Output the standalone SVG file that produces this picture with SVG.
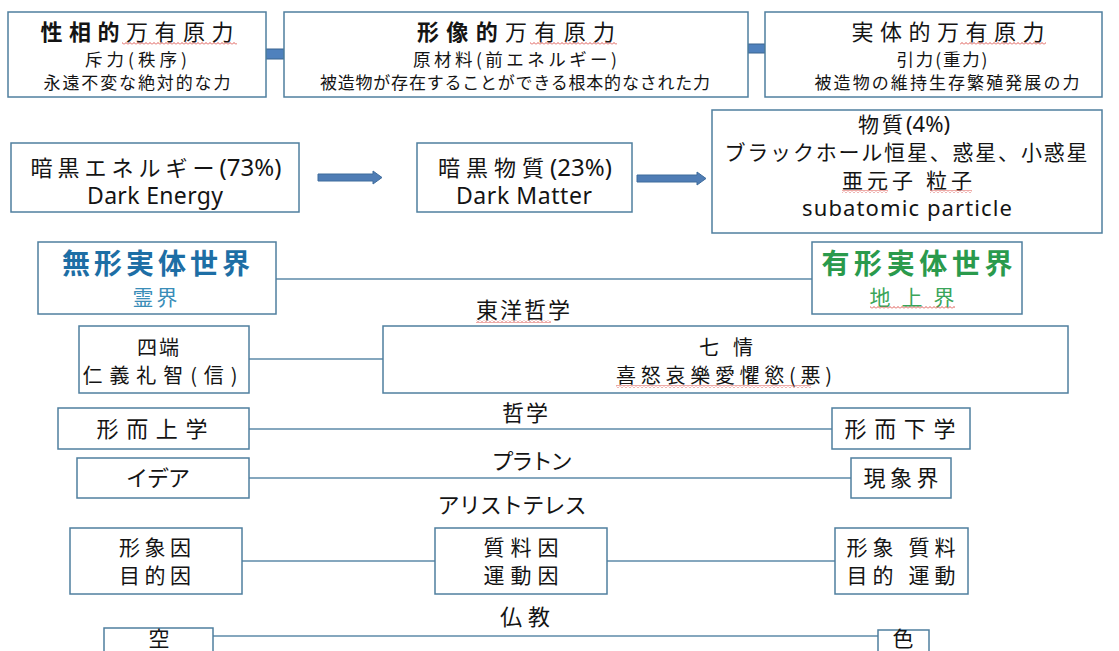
<svg xmlns="http://www.w3.org/2000/svg" width="1119" height="651" viewBox="0 0 1119 651">
<style>
.box{fill:#fff;stroke:#4f7f9f;stroke-width:1.5}
.t{font-family:"Noto Sans CJK JP","Noto Sans",sans-serif;fill:#141414;text-anchor:middle}
.lat{font-family:"Noto Sans","Open Sans","Noto Sans CJK JP",sans-serif}
.b{font-weight:bold}
.conn{stroke:#5d8aa8;stroke-width:1.5;fill:none}
.arr{fill:#4f7db5;stroke:#3e6c9c;stroke-width:1}
.sq{fill:#4f81bd;stroke:#3a648f;stroke-width:1}
.wv{fill:url(#wave)}
.blue{fill:#1d6ea5}
.blue2{fill:#3a8db8}
.green{fill:#2a9a4c}
.green2{fill:#3aa55a}
</style>
<defs>
<pattern id="wave" x="0" y="0" width="4" height="3" patternUnits="userSpaceOnUse">
<path d="M0 2.5 L2 0.5 L4 2.5" fill="none" stroke="#d9433b" stroke-width="0.9"/>
</pattern>
</defs>
<rect width="1119" height="651" fill="#fff"/>

<g id="connectors">
<rect class="sq" x="266" y="49" width="18" height="10"/>
<rect class="sq" x="748" y="44" width="17" height="9"/>
<polygon class="arr" points="318,174 373,174 373,171 382,177.5 373,184 373,181 318,181"/>
<polygon class="arr" points="637,175 697,175 697,172 706,178.5 697,185 697,182 637,182"/>
<line class="conn" x1="276" y1="279" x2="812" y2="279"/>
<line class="conn" x1="249" y1="359" x2="383" y2="359"/>
<line class="conn" x1="249" y1="429" x2="832" y2="429"/>
<line class="conn" x1="249" y1="478" x2="851" y2="478"/>
<line class="conn" x1="242" y1="561" x2="435" y2="561"/>
<line class="conn" x1="607" y1="561" x2="835" y2="561"/>
<line class="conn" x1="213" y1="636" x2="878" y2="636"/>
</g>

<g id="node-seisou">
<rect class="box" x="8" y="12" width="258" height="85"/>
<text class="t" x="137" y="40" font-size="22" textLength="193"><tspan class="b">性相的</tspan>万有原力</text>
<rect class="wv" x="122" y="42" width="115" height="3"/>
<text class="t" x="136" y="66" font-size="17.5" textLength="102">斥力(秩序)</text>
<text class="t" x="137" y="89" font-size="17" textLength="187">永遠不変な絶対的な力</text>
</g>

<g id="node-keisho">
<rect class="box" x="284" y="12" width="464" height="85"/>
<text class="t" x="516" y="40" font-size="22" textLength="198"><tspan class="b">形像的</tspan>万有原力</text>
<rect class="wv" x="530" y="42" width="87" height="3"/>
<text class="t" x="515" y="66" font-size="17.5" textLength="204">原材料(前エネルギー)</text>
<text class="t" x="515" y="89" font-size="17" textLength="390">被造物が存在することができる根本的なされた力</text>
</g>

<g id="node-jittai">
<rect class="box" x="765" y="12" width="337" height="85"/>
<text class="t" x="948" y="40" font-size="22" textLength="193">実体的万有原力</text>
<rect class="wv" x="960" y="42" width="86" height="3"/>
<text class="t" x="942" y="66" font-size="17.5" textLength="91">引力(重力)</text>
<text class="t" x="947" y="89" font-size="17" textLength="265">被造物の維持生存繁殖発展の力</text>
</g>

<g id="node-darkenergy">
<rect class="box" x="11" y="143" width="288" height="69"/>
<text class="t" x="156" y="176" font-size="22"><tspan letter-spacing="5">暗黒エネルギー</tspan><tspan class="lat" font-size="24">(73%)</tspan></text>
<text class="t lat" x="155" y="204" font-size="23" textLength="136">Dark Energy</text>
</g>

<g id="node-darkmatter">
<rect class="box" x="417" y="143" width="215" height="69"/>
<text class="t" x="525" y="176" font-size="22"><tspan letter-spacing="6">暗黒物質</tspan><tspan class="lat" font-size="24">(23%)</tspan></text>
<text class="t lat" x="524" y="204" font-size="23" textLength="136">Dark Matter</text>
</g>

<g id="node-matter">
<rect class="box" x="712" y="110" width="390" height="123"/>
<text class="t" x="904" y="132" font-size="21"><tspan letter-spacing="3">物質</tspan><tspan class="lat" font-size="22">(4%)</tspan></text>
<text class="t" x="906" y="160" font-size="21" textLength="363">ブラックホール恒星、惑星、小惑星</text>
<text class="t" x="907" y="188" font-size="21" textLength="130">亜元子 粒子</text>
<rect class="wv" x="842" y="190" width="46" height="3"/>
<rect class="wv" x="930" y="190" width="42" height="3"/>
<text class="t lat" x="907" y="216" font-size="22" textLength="210">subatomic particle</text>
</g>

<g id="node-mukei">
<rect class="box" x="38" y="242" width="238" height="72"/>
<text class="t b blue" x="156" y="274" font-size="28" textLength="188">無形実体世界</text>
<text class="t blue2" x="155" y="305" font-size="21" textLength="45">霊界</text>
</g>

<g id="node-yukei">
<rect class="box" x="812" y="242" width="210" height="72"/>
<text class="t b green" x="917" y="274" font-size="28" textLength="191">有形実体世界</text>
<text class="t green2" x="912" y="305" font-size="21" textLength="85">地上界</text>
<rect class="wv" x="870" y="306" width="85" height="3"/>
</g>

<g id="label-toyo">
<text class="t" x="523" y="318" font-size="22" textLength="94">東洋哲学</text>
<rect class="wv" x="476" y="320" width="75" height="3"/>
</g>

<g id="node-shitan">
<rect class="box" x="79" y="326" width="170" height="67"/>
<text class="t" x="158" y="355" font-size="20" textLength="42">四端</text>
<text class="t" x="160" y="383" font-size="20" textLength="155">仁義礼智(信)</text>
</g>

<g id="node-shichijo">
<rect class="box" x="383" y="326" width="685" height="67"/>
<text class="t" x="726" y="355" font-size="20" textLength="54">七情</text>
<text class="t" x="724" y="383" font-size="20" textLength="216">喜怒哀樂愛懼慾(悪)</text>
<rect class="wv" x="616" y="385" width="195" height="3"/>
</g>

<g id="label-tetsugaku">
<text class="t" x="525" y="421" font-size="22" textLength="46">哲学</text>
</g>

<g id="node-keijijogaku">
<rect class="box" x="58" y="408" width="191" height="41"/>
<text class="t" x="152" y="437" font-size="22" textLength="111">形而上学</text>
</g>

<g id="node-keijikagaku">
<rect class="box" x="832" y="408" width="138" height="41"/>
<text class="t" x="900" y="437" font-size="22" textLength="111">形而下学</text>
</g>

<g id="label-plato">
<text class="t" x="532" y="469" font-size="22" textLength="81">プラトン</text>
</g>

<g id="node-idea">
<rect class="box" x="77" y="458" width="172" height="40"/>
<text class="t" x="158" y="486" font-size="22" textLength="64">イデア</text>
</g>

<g id="node-genshokai">
<rect class="box" x="851" y="458" width="100" height="40"/>
<text class="t" x="901" y="486" font-size="22" textLength="75">現象界</text>
</g>

<g id="label-aristoteles">
<text class="t" x="512" y="513" font-size="22" textLength="149">アリストテレス</text>
</g>

<g id="node-keishoin">
<rect class="box" x="70" y="528" width="172" height="66"/>
<text class="t" x="155" y="555" font-size="21" textLength="72">形象因</text>
<text class="t" x="155" y="583" font-size="21" textLength="72">目的因</text>
</g>

<g id="node-shitsuryoin">
<rect class="box" x="435" y="528" width="172" height="66"/>
<text class="t" x="521" y="555" font-size="21" textLength="75">質料因</text>
<text class="t" x="521" y="583" font-size="21" textLength="75">運動因</text>
</g>

<g id="node-keishoshitsuryo">
<rect class="box" x="835" y="528" width="133" height="66"/>
<text class="t" x="901" y="555" font-size="21" textLength="109">形象 質料</text>
<text class="t" x="901" y="583" font-size="21" textLength="109">目的 運動</text>
</g>

<g id="label-bukkyo">
<text class="t" x="525" y="625" font-size="22" textLength="50">仏教</text>
</g>

<g id="node-ku">
<rect class="box" x="104" y="628" width="109" height="40"/>
<text class="t" x="159" y="646" font-size="21">空</text>
</g>

<g id="node-shiki">
<rect class="box" x="878" y="630" width="51" height="40"/>
<text class="t" x="903" y="646" font-size="21">色</text>
</g>
</svg>
